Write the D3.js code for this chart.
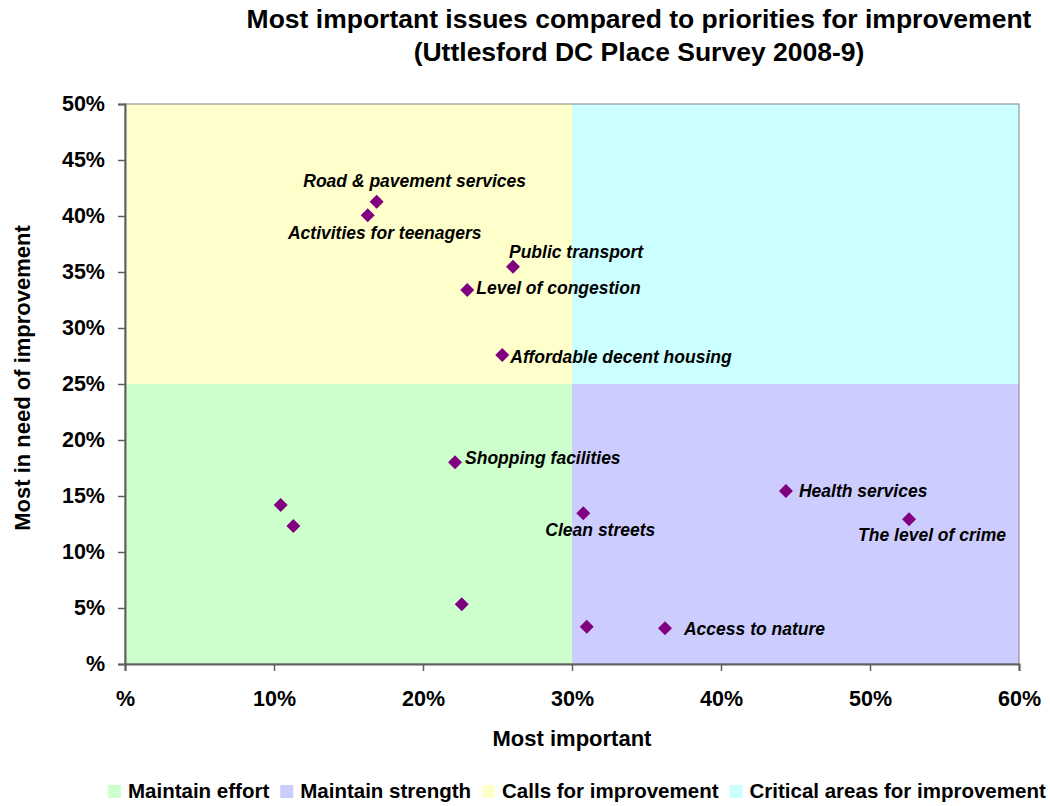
<!DOCTYPE html>
<html>
<head>
<meta charset="utf-8">
<script src="https://cdn.jsdelivr.net/npm/d3@7"></script>
<style>
  html, body { margin: 0; padding: 0; background: #ffffff; }
  svg { display: block; font-family: "Liberation Sans", Arial, sans-serif; }
</style>
</head>
<body>
<svg id="chart" width="1050" height="806"></svg>
<script>
// ---------------- data ----------------
const issueNames = [
  "Road & pavement services", "Activities for teenagers", "Public transport",
  "Level of congestion", "Affordable decent housing", "Shopping facilities",
  "", "", "Clean streets", "Health services", "The level of crime",
  "", "", "Access to nature"
];
const mostImportant = [0.1689, 0.1629, 0.2604, 0.2297, 0.2532, 0.2215,
  0.1045, 0.1130, 0.3076, 0.4436, 0.5262, 0.2260, 0.3099, 0.3624];
const needImprovement = [0.4128, 0.4006, 0.3547, 0.3339, 0.2759, 0.1801,
  0.1420, 0.1232, 0.1346, 0.1545, 0.1292, 0.0533, 0.0333, 0.0319];

// label placement relative to each marker (annotation style)
const labelAnchor = ["middle", "middle", "start", "start", "start", "start",
  "start", "start", "middle", "start", "middle", "start", "start", "start"];
const labelDx = [38, 17, -4, 9, 8, 10, 0, 0, 17, 13, 23, 0, 0, 19];
const labelDy = [-15, 24, -9, 4, 8, 2, 0, 0, 23, 6, 22, 0, 0, 7];

const xTickValues = [0, 0.1, 0.2, 0.3, 0.4, 0.5, 0.6];
const xTickLabels = ["%", "10%", "20%", "30%", "40%", "50%", "60%"];
const yTickValues = [0, 0.05, 0.1, 0.15, 0.2, 0.25, 0.3, 0.35, 0.4, 0.45, 0.5];
const yTickLabels = ["%", "5%", "10%", "15%", "20%", "25%", "30%", "35%", "40%", "45%", "50%"];

const quadrantNames = ["Maintain effort", "Maintain strength", "Calls for improvement", "Critical areas for improvement"];
const quadrantColors = ["#CCFFCC", "#CCCCFF", "#FFFFCC", "#CCFFFF"];
const quadrantX = [[0, 0.3], [0.3, 0.6], [0, 0.3], [0.3, 0.6]];
const quadrantY = [[0, 0.25], [0, 0.25], [0.25, 0.5], [0.25, 0.5]];

const titleLines = ["Most important issues compared to priorities for improvement",
                    "(Uttlesford DC Place Survey 2008-9)"];
const xTitle = "Most important";
const yTitle = "Most in need of improvement";

// ---------------- layout ----------------
const svg = d3.select("#chart");
const plot = { left: 125, right: 1019, top: 104, bottom: 664 };
const x = d3.scaleLinear().domain([0, 0.6]).range([plot.left, plot.right]);
const y = d3.scaleLinear().domain([0, 0.5]).range([plot.bottom, plot.top]);

// quadrant backgrounds
svg.append("g").selectAll("rect")
  .data(quadrantNames.map((n, i) => ({ n, c: quadrantColors[i], xs: quadrantX[i], ys: quadrantY[i] })))
  .join("rect")
  .attr("x", d => x(d.xs[0]))
  .attr("width", d => x(d.xs[1]) - x(d.xs[0]))
  .attr("y", d => y(d.ys[1]))
  .attr("height", d => y(d.ys[0]) - y(d.ys[1]))
  .attr("fill", d => d.c);

// plot border
svg.append("rect")
  .attr("x", plot.left).attr("y", plot.top)
  .attr("width", plot.right - plot.left).attr("height", plot.bottom - plot.top)
  .attr("fill", "none").attr("stroke", "#808080").attr("stroke-width", 1);

// axes
const xAxis = d3.axisBottom(x).tickValues(xTickValues)
  .tickFormat((d, i) => xTickLabels[i]).tickSizeOuter(0).tickSize(7).tickPadding(20);
const yAxis = d3.axisLeft(y).tickValues(yTickValues)
  .tickFormat((d, i) => yTickLabels[i]).tickSizeOuter(0).tickSize(7).tickPadding(13);

const gx = svg.append("g").attr("transform", `translate(0,${plot.bottom})`).call(xAxis);
const gy = svg.append("g").attr("transform", `translate(${plot.left},0)`).call(yAxis);
[gx, gy].forEach(g => {
  g.select(".domain").attr("stroke", "#606060").attr("stroke-width", 2);
  g.selectAll(".tick line").attr("stroke", "#606060").attr("stroke-width", 1.5);
  g.selectAll(".tick text")
    .attr("font-family", "'Liberation Sans', Arial, sans-serif")
    .attr("font-weight", "bold").attr("font-size", 21.5).attr("fill", "#000");
});

// axis titles
svg.append("text").attr("x", (plot.left + plot.right) / 2).attr("y", 746)
  .attr("text-anchor", "middle").attr("font-weight", "bold").attr("font-size", 22)
  .text(xTitle);
svg.append("text").attr("transform", `translate(30,${(plot.top + plot.bottom) / 2 - 6}) rotate(-90)`)
  .attr("text-anchor", "middle").attr("font-weight", "bold").attr("font-size", 22)
  .text(yTitle);

// title
svg.append("g").selectAll("text").data(titleLines).join("text")
  .attr("x", 639).attr("y", (d, i) => 28 + i * 33)
  .attr("text-anchor", "middle").attr("font-weight", "bold").attr("font-size", 26.5)
  .text(d => d);

// points
const pts = issueNames.map((n, i) => ({ n, xv: mostImportant[i], yv: needImprovement[i],
  a: labelAnchor[i], dx: labelDx[i], dy: labelDy[i] }));
const diamond = d3.symbol().type(d3.symbolDiamond2).size(125);
svg.append("g").selectAll("path").data(pts).join("path")
  .attr("d", diamond)
  .attr("transform", d => `translate(${x(d.xv)},${y(d.yv)})`)
  .attr("fill", "#800080");

svg.append("g").selectAll("text").data(pts.filter(d => d.n)).join("text")
  .attr("x", d => x(d.xv) + d.dx)
  .attr("y", d => y(d.yv) + d.dy)
  .attr("text-anchor", d => d.a)
  .attr("font-weight", "bold").attr("font-style", "italic").attr("font-size", 17.5)
  .attr("fill", "#000")
  .text(d => d.n);

// legend
const leg = svg.append("g");
let lx = 108;
quadrantNames.forEach((n, i) => {
  leg.append("rect").attr("x", lx).attr("y", 785).attr("width", 13).attr("height", 13)
    .attr("fill", quadrantColors[i]);
  const t = leg.append("text").attr("x", lx + 20).attr("y", 798)
    .attr("font-weight", "bold").attr("font-size", 20.5).text(n);
  lx += 20 + t.node().getComputedTextLength() + 11;
});
</script>
</body>
</html>
